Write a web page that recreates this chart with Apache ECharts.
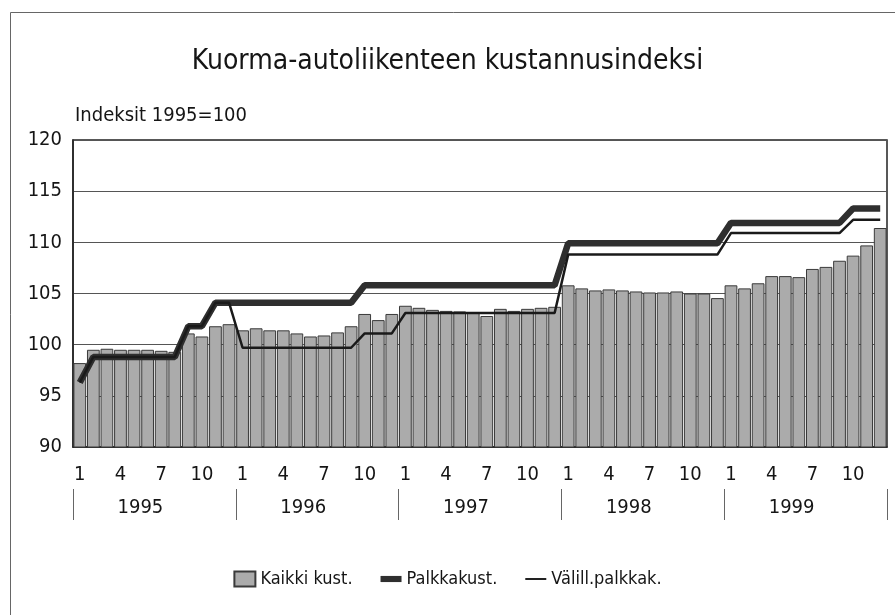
<!DOCTYPE html>
<html><head><meta charset="utf-8">
<script src="https://cdn.jsdelivr.net/npm/echarts@6/dist/echarts.min.js"></script>
<style>html,body{margin:0;padding:0;background:#fff}#c{width:895px;height:615px}</style>
</head><body><div id="c"></div>
<script>
const years = ['1995', '1996', '1997', '1998', '1999'];
const monthTickLabels = ['1', '', '', '4', '', '', '7', '', '', '10', '', ''];
const yTickValues = [90, 95, 100, 105, 110, 115, 120];

const kaikkiKust = [
  98.2, 99.5, 99.6, 99.5, 99.5, 99.5, 99.4, 99.3, 101.1, 100.8, 101.8, 102.0,
  101.4, 101.6, 101.4, 101.4, 101.1, 100.8, 100.9, 101.2, 101.8, 103.0, 102.4, 103.0,
  103.8, 103.6, 103.4, 103.3, 103.25, 103.1, 102.8, 103.5, 103.3, 103.5, 103.6, 103.7,
  105.8, 105.5, 105.3, 105.4, 105.3, 105.2, 105.1, 105.1, 105.2, 105.0, 105.0, 104.55,
  105.8, 105.5, 106.0, 106.7, 106.7, 106.6, 107.4, 107.6, 108.2, 108.7, 109.7, 111.4
];
const palkkakust = [
  96.3, 98.8, 98.8, 98.8, 98.8, 98.8, 98.8, 98.8, 101.8, 101.8, 104.1, 104.1,
  104.1, 104.1, 104.1, 104.1, 104.1, 104.1, 104.1, 104.1, 104.1, 105.8, 105.8, 105.8,
  105.8, 105.8, 105.8, 105.8, 105.8, 105.8, 105.8, 105.8, 105.8, 105.8, 105.8, 105.8,
  109.9, 109.9, 109.9, 109.9, 109.9, 109.9, 109.9, 109.9, 109.9, 109.9, 109.9, 109.9,
  111.9, 111.9, 111.9, 111.9, 111.9, 111.9, 111.9, 111.9, 111.9, 113.3, 113.3, 113.3
];
const valillPalkkak = [
  96.3, 98.8, 98.8, 98.8, 98.8, 98.8, 98.8, 98.8, 101.8, 101.8, 104.1, 104.1,
  99.7, 99.7, 99.7, 99.7, 99.7, 99.7, 99.7, 99.7, 99.7, 101.1, 101.1, 101.1,
  103.1, 103.1, 103.1, 103.1, 103.1, 103.1, 103.1, 103.1, 103.1, 103.1, 103.1, 103.1,
  108.8, 108.8, 108.8, 108.8, 108.8, 108.8, 108.8, 108.8, 108.8, 108.8, 108.8, 108.8,
  110.9, 110.9, 110.9, 110.9, 110.9, 110.9, 110.9, 110.9, 110.9, 112.2, 112.2, 112.2
];

const F = "'Liberation Sans Narrow','DejaVu Sans Condensed',sans-serif";
const categories = [];
years.forEach(y => monthTickLabels.forEach((m, i) => categories.push(y + '-' + (i + 1))));

const chart = echarts.init(document.getElementById('c'), null, { renderer: 'canvas' });
chart.setOption({
  backgroundColor: '#fff',
  animation: false,
  textStyle: { fontFamily: F },
  title: {
    text: 'Kuorma-autoliikenteen kustannusindeksi',
    left: 'center', top: 43,
    textStyle: { fontFamily: F, fontSize: 28, fontWeight: 'normal', color: '#151515' }
  },
  graphic: [{
    type: 'rect', left: 8, top: 10, silent: true,
    shape: { width: 920, height: 640 },
    style: { fill: 'none', stroke: '#666', lineWidth: 1 }
  }],
  legend: {
    bottom: 22, left: 'center', itemWidth: 21, itemHeight: 15, itemGap: 28,
    textStyle: { fontFamily: F, fontSize: 18, color: '#151515' },
    data: [
      { name: 'Kaikki kust.', icon: 'rect' },
      { name: 'Palkkakust.', icon: 'path://M0,0h24v7h-24z' },
      { name: 'Välill.palkkak.', icon: 'path://M0,0h24v2.2h-24z' }
    ]
  },
  grid: { left: 73, right: 8, top: 140, bottom: 168, show: true, borderColor: '#222', borderWidth: 1.5 },
  xAxis: [{
    type: 'category', data: categories, position: 'bottom',
    axisLine: { lineStyle: { color: '#222', width: 1.5 } },
    axisTick: { show: false },
    axisLabel: {
      interval: 0, margin: 18, fontSize: 20, color: '#151515', fontFamily: F,
      formatter: (v, idx) => monthTickLabels[idx % 12]
    }
  }, {
    type: 'category', data: years, position: 'bottom', offset: 42,
    axisLine: { show: false },
    axisTick: { show: true, length: 31, lineStyle: { color: '#666', width: 1 } },
    axisLabel: { margin: 9, fontSize: 20, color: '#151515', fontFamily: F, padding: [0, 28, 0, 0] }
  }],
  yAxis: {
    type: 'value', min: yTickValues[0], max: yTickValues[yTickValues.length - 1], interval: 5,
    name: 'Indeksit 1995=100', nameLocation: 'end', nameGap: 14,
    nameTextStyle: { align: 'left', fontSize: 20, color: '#151515', fontFamily: F, padding: [0, 0, 0, 2] },
    axisLine: { show: true, lineStyle: { color: '#222', width: 1.5 } },
    axisTick: { show: false },
    axisLabel: { margin: 11, fontSize: 20, color: '#151515', fontFamily: F },
    splitLine: { show: true, lineStyle: { color: '#555', width: 1 } }
  },
  series: [{
    name: 'Kaikki kust.', type: 'bar', data: kaikkiKust, barCategoryGap: '6%',
    itemStyle: { color: '#ababab', borderColor: '#3a3a3a', borderWidth: 1 }, z: 2
  }, {
    name: 'Palkkakust.', type: 'line', data: palkkakust, symbol: 'none',
    lineStyle: { color: '#2f2f2f', width: 6.5 }, itemStyle: { color: '#2f2f2f' }, z: 3
  }, {
    name: 'Välill.palkkak.', type: 'line', data: valillPalkkak, symbol: 'none',
    lineStyle: { color: '#1a1a1a', width: 2.5 }, itemStyle: { color: '#1a1a1a' }, z: 4
  }]
});
</script></body></html>
